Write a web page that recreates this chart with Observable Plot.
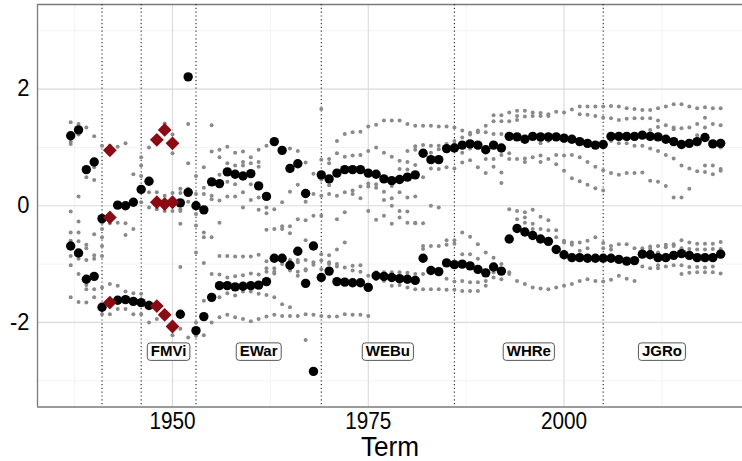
<!DOCTYPE html>
<html><head><meta charset="utf-8">
<script src="https://cdn.jsdelivr.net/npm/d3@7"></script>
<script src="https://cdn.jsdelivr.net/npm/@observablehq/plot@0.6"></script>
<style>
html,body{margin:0;padding:0;background:#fff;}
#chart{width:742px;height:461px;overflow:hidden;}
</style></head><body><div id="chart"></div>
<script>
// ---- data ----
const terms = [1937,1938,1939,1940,1941,1942,1943,1944,1945,1946,1947,1948,1949,1950,1951,1952,1953,1954,1955,1956,1957,1958,1959,1960,1961,1962,1963,1964,1965,1966,1967,1968,1969,1970,1971,1972,1973,1974,1975,1976,1977,1978,1979,1980,1981,1982,1983,1984,1985,1986,1987,1988,1989,1990,1991,1992,1993,1994,1995,1996,1997,1998,1999,2000,2001,2002,2003,2004,2005,2006,2007,2008,2009,2010,2011,2012,2013,2014,2015,2016,2017,2018,2019,2020];

const blackUpper = [1.20,1.30,0.62,0.75,-0.22,null,0.01,0.00,0.06,0.28,0.42,null,null,null,0.05,2.21,0.00,-0.07,0.41,0.38,0.58,0.54,0.51,0.55,0.34,0.16,1.10,0.95,0.64,0.72,0.21,-0.69,0.53,0.46,0.56,0.62,0.62,0.62,0.56,0.54,0.46,0.43,0.45,0.49,0.53,0.90,0.79,0.79,0.98,0.99,1.04,1.06,1.04,0.96,1.04,0.99,1.19,1.18,1.14,1.19,1.18,1.18,1.18,1.16,1.14,1.10,1.07,1.04,1.05,1.19,1.19,1.19,1.19,1.21,1.19,1.18,1.14,1.10,1.05,1.07,1.10,1.17,1.06,1.07];

const blackLower = [-0.69,-0.81,-1.26,-1.21,-1.74,null,-1.62,-1.61,-1.64,-1.66,-1.71,null,null,null,-1.86,0.23,-2.14,-1.90,-1.57,-1.37,-1.37,-1.39,-1.38,-1.37,-1.36,-1.30,-0.90,-0.90,-1.02,-0.78,-1.33,-2.84,-1.23,-1.12,-1.30,-1.31,-1.32,-1.32,-1.40,-1.20,-1.21,-1.23,-1.25,-1.26,-1.28,-0.90,-1.11,-1.13,-0.98,-1.01,-1.00,-1.03,-1.09,-1.15,-1.05,-1.12,-0.57,-0.39,-0.45,-0.51,-0.57,-0.61,-0.75,-0.84,-0.89,-0.89,-0.90,-0.90,-0.90,-0.90,-0.92,-0.95,-0.94,-0.83,-0.84,-0.89,-0.89,-0.85,-0.82,-0.85,-0.89,-0.89,-0.89,-0.83];

const redTerms  = [1942,1942,1942,1948,1948,1948,1949,1949,1949,1950,1950,1950];
const redValues = [0.95,-0.20,-1.66,1.13,0.06,-1.72,1.30,0.03,-1.87,1.07,0.06,-2.07];

const grayValues = [
 [1.43,1.10,1.06,-0.10,-0.46,-0.60,-0.86,-1.02,-1.57],
 [1.40,1.22,0.16,-0.27,-0.46,-0.61,-0.91,-1.17,-1.65],
 [1.34,0.49,-0.67,-0.73,-0.93,-1.36,-1.43,-1.66],
 [1.19,0.66,0.44,-0.49,-0.85,-0.91,-1.43,-1.57],
 [1.03,-0.29,-0.40,-0.54,-0.69,-0.86,-1.40,-1.77,-1.86],
 [1.03,-0.30,-1.34,-1.86],
 [1.01,-0.29,-1.37,-1.77],
 [1.07,-0.03,-0.30,-0.50,-1.47,-1.77],
 [0.54,-0.40,-1.50,-1.86],
 [0.83,0.69,0.51,0.06,-1.51,-1.86],
 [1.00,0.23,-0.03,-1.66,-2.00],
 [0.23,-0.06,-1.94],
 [1.41,0.17,-0.09,-1.91],
 [1.22,0.90,0.22,-0.09,-2.00,-2.22],
 [0.29,0.22,-0.06,-0.09,-0.31,-1.05,-2.11],
 [1.40,0.73,0.29,0.22,0.07,-2.26],
 [0.51,0.20,0.06,-0.14,-0.34,-0.80,-2.00,-2.23],
 [0.66,0.31,0.20,-0.46,-0.54,-0.98,-1.63,-2.22],
 [1.38,0.93,0.17,0.11,-0.54,-1.17,-2.00],
 [0.96,0.83,0.53,0.09,-0.29,-0.86,-1.18,-1.57,-1.91],
 [1.01,0.73,0.41,0.16,-0.86,-1.23,-1.50,-1.87],
 [0.91,0.69,0.37,0.16,-0.87,-1.21,-1.54,-1.91],
 [0.93,0.75,0.69,0.23,-0.03,-0.87,-1.19,-1.47,-1.94],
 [0.83,0.73,0.37,0.10,-0.87,-1.16,-1.47,-1.98],
 [0.96,0.75,0.67,0.14,-0.07,-0.84,-1.18,-1.51,-1.94],
 [1.03,-0.03,-0.13,-0.41,-0.95,-1.07,-1.13,-1.53,-1.90],
 [-0.06,-0.40,-1.07,-1.13,-1.16,-1.57,-1.87],
 [0.06,-0.35,-0.40,-0.90,-0.96,-1.00,-1.69,-1.89],
 [0.98,0.24,-0.35,-0.47,-0.93,-1.11,-1.74,-1.89],
 [0.94,0.36,-0.23,-0.93,-0.97,-1.13,-1.20,-1.89],
 [0.74,0.07,-0.25,-0.59,-0.93,-1.09,-1.11,-1.86,-2.30],
 [0.55,0.20,-0.17,-0.66,-0.97,-1.01,-1.87],
 [1.66,0.79,0.45,0.17,-0.17,-0.83,-0.94,-1.09,-1.89],
 [0.80,0.73,0.35,0.20,-0.85,-0.97,-1.00,-1.90],
 [1.11,0.90,0.17,-0.23,-0.75,-1.00,-1.04,-1.90],
 [1.23,0.84,0.23,-0.11,-0.63,-1.06,-1.86],
 [1.26,0.86,0.26,0.20,-1.03,-1.11,-1.87],
 [1.27,0.87,0.33,0.13,-1.02,-1.13,-1.87],
 [1.36,0.94,0.38,0.33,-0.09,-1.20,-1.89],
 [1.39,1.00,0.37,0.31,-0.24,-1.14,-1.26],
 [1.46,0.91,0.24,0.10,-0.17,-1.14,-1.29],
 [1.46,0.84,0.34,0.13,0.00,-0.31,-1.14,-1.27,-1.37],
 [1.46,0.77,0.63,0.23,-0.09,-0.20,-1.14,-1.26,-1.36],
 [1.40,0.94,0.75,0.62,0.14,-0.10,-0.29,-1.15,-1.40],
 [1.37,1.02,0.96,0.70,0.16,-0.29,-0.30,-1.17,-1.43],
 [1.37,1.04,0.49,-0.30,-0.69,-0.74,-1.17,-1.43],
 [1.37,1.03,0.91,0.64,0.00,-0.69,-1.43],
 [1.36,1.03,0.97,0.63,-0.03,-0.69,-1.43],
 [1.36,1.06,1.01,0.66,-0.59,-0.67,-1.25,-1.44],
 [1.34,1.11,1.06,0.64,-0.59,-0.65,-1.30,-1.44],
 [1.29,1.17,0.91,0.74,-0.46,-0.83,-1.29,-1.46],
 [1.25,1.22,0.98,0.78,-0.53,-0.83,-1.31,-1.46],
 [1.29,1.26,1.00,0.66,-0.66,-0.91,-1.31,-1.46],
 [1.37,1.26,0.80,0.56,-0.80,-1.11,-1.29,-1.37],
 [1.55,1.45,1.23,0.80,0.67,-0.89,-1.14,-1.23],
 [1.55,1.45,1.23,0.87,0.57,0.39,-1.00,-1.13,-1.26],
 [1.60,1.45,0.90,0.80,-0.06,-1.14,-1.17],
 [1.63,1.54,1.47,0.80,-0.09,-0.23,-1.29],
 [1.63,1.53,0.81,0.75,-0.11,-0.20,-0.29,-1.34],
 [1.60,1.54,0.83,-0.07,-0.31,-0.40,-1.40],
 [1.59,1.54,1.11,1.07,0.86,0.75,-0.19,-0.40,-1.42],
 [1.57,1.54,1.11,0.80,-0.25,-0.42,-1.43],
 [1.61,1.14,0.87,0.71,-0.42,-0.54,-1.40],
 [1.60,1.11,0.86,0.60,-0.60,-0.63,-1.37],
 [1.65,1.14,0.87,0.47,-0.63,-0.67,-1.34],
 [1.70,1.57,1.07,0.83,0.42,-0.63,-0.77,-1.29],
 [1.70,1.56,1.03,0.75,0.36,-0.60,-0.73,-1.26],
 [1.70,1.54,0.67,0.30,-0.54,-1.29],
 [1.70,1.51,0.61,0.26,-0.64,-0.73,-1.30],
 [1.71,1.50,1.11,0.56,-0.69,-0.75,-1.27],
 [1.70,1.47,1.07,0.53,-0.66,-1.20],
 [1.67,1.49,1.07,0.56,-0.66,-1.25],
 [1.66,1.50,1.03,0.56,-0.73,-1.29],
 [1.64,1.50,1.03,0.57,-0.73,-0.80,-1.04],
 [1.64,1.50,1.30,0.98,0.43,-0.70,-0.74,-1.07],
 [1.67,1.46,1.35,0.94,0.41,-0.69,-0.80,-1.02,-1.07],
 [1.70,1.38,0.87,0.34,-0.67,-0.71,-1.04],
 [1.74,1.34,1.31,0.81,0.14,-0.66,-0.69,-1.02],
 [1.74,1.33,0.69,0.14,-0.59,-0.73,-1.02,-1.17],
 [1.70,1.34,0.64,0.29,-0.63,-0.74,-1.05,-1.15],
 [1.67,1.40,1.21,0.59,-0.65,-0.75,-1.05,-1.14],
 [1.69,1.51,1.34,0.69,0.58,-0.65,-0.75,-1.06,-1.14],
 [1.67,1.40,0.69,0.54,-0.65,-0.74,-1.04,-1.14],
 [1.67,1.38,1.00,0.63,0.60,-0.62,-0.74,-0.82,-1.16]
];

const courtStarts = [1941,1946,1953,1969,1986,2005];
const chiefLabels = ["FMVi","EWar","WEBu","WHRe","JGRo"];
const chiefLabelTerms = [1949.5,1961,1977.5,1995.5,2012.5];
const chiefLabelY = -2.5;

const xTicks = [1950,1975,2000];
const xMinor = [1937.5,1962.5,1987.5,2012.5];
const yTicks = [-2,0,2];
const yTickLabels = ["-2","0","2"];
const yMinor = [-3,-1,1,3];
const xTitle = "Term";

// ---- tables built from the arrays ----
const grayData = terms.flatMap((t,i) => grayValues[i].map(v => ({term:t, value:v})));
const blackData = terms.flatMap((t,i) => [blackUpper[i], blackLower[i]].filter(v => v != null).map(v => ({term:t, value:v})));
const redData = redTerms.map((t,i) => ({term:t, value:redValues[i]}));
const labelData = chiefLabels.map((l,i) => ({label:l, term:chiefLabelTerms[i], value:chiefLabelY}));

const xDom = [1932.76, 2022.79];
const yDom = [-3.45, 3.45];
const font = "'Liberation Sans', Arial, Helvetica, sans-serif";

const chart = Plot.plot({
  width: 742, height: 461,
  marginLeft: 37, marginRight: 0, marginTop: 4, marginBottom: 54.5,
  style: {fontFamily: font, background: "#fff", overflow: "visible"},
  x: {domain: xDom, axis: null},
  y: {domain: yDom, axis: null},
  marks: [
    Plot.ruleY(yMinor, {stroke: "#ebebeb", strokeWidth: 0.6}),
    Plot.ruleX(xMinor, {stroke: "#ebebeb", strokeWidth: 0.6}),
    Plot.ruleY(yTicks, {stroke: "#dadada", strokeWidth: 1.1}),
    Plot.ruleX(xTicks, {stroke: "#dadada", strokeWidth: 1.1}),
    Plot.ruleY(yDom, {stroke: "#7a7a7a", strokeWidth: 1.3}),
    Plot.ruleX([xDom[0]], {stroke: "#7a7a7a", strokeWidth: 1.3}),
    Plot.ruleX(courtStarts, {stroke: "#222", strokeWidth: 1.1, strokeDasharray: "1.2,2.6"}),
    Plot.dot(grayData, {x: "term", y: "value", r: 2.0, fill: "#8a8a8a", stroke: "none"}),
    Plot.dot(blackData, {x: "term", y: "value", r: 4.7, fill: "#000", stroke: "none"}),
    Plot.dot(redData, {x: "term", y: "value", r: 6.2, symbol: "diamond2", fill: "#8b0a14", stroke: "none"}),
    Plot.text(labelData, {x: "term", y: "value", text: "label", fontSize: 15, fontWeight: "bold", fill: "#000"}),
    Plot.text(xTicks, {x: d => d, y: () => yDom[0], dy: 14.5, lineAnchor: "middle", text: d => String(d), fontSize: 23, fill: "#000"}),
    Plot.text(yTicks, {x: () => xDom[0], y: d => d, dx: -8, lineAnchor: "middle", text: (d,i) => yTickLabels[i], textAnchor: "end", fontSize: 23, fill: "#000"}),
    Plot.text([xTitle], {frameAnchor: "bottom", lineAnchor: "middle", dy: 40.5, fontSize: 27, fill: "#000"})
  ]
});
document.getElementById("chart").appendChild(chart);

// axis texts in the reference are slightly condensed horizontally
const squeeze = new Map([...xTicks.map(d => [String(d), 0.9]), ...yTickLabels.map(d => [d, 0.95]), [xTitle, 0.97]]);
const labelSet = new Set(chiefLabels);
chart.querySelectorAll("text").forEach(t => {
  const s = t.textContent;
  if (squeeze.has(s)) {
    const w = t.getComputedTextLength();
    t.setAttribute("textLength", (w * squeeze.get(s)).toFixed(1));
    t.setAttribute("lengthAdjust", "spacingAndGlyphs");
  } else if (labelSet.has(s)) {
    // white rounded boxes behind the chief-justice labels (geom_label style)
    const b = t.getBBox();
    const r = document.createElementNS("http://www.w3.org/2000/svg", "rect");
    const tr = t.getAttribute("transform");
    if (tr) r.setAttribute("transform", tr);
    r.setAttribute("x", b.x - 3.5);
    r.setAttribute("y", b.y + 0.5);
    r.setAttribute("width", b.width + 7);
    r.setAttribute("height", b.height + 0.5);
    r.setAttribute("rx", 3);
    r.setAttribute("fill", "#fff");
    r.setAttribute("stroke", "#444");
    r.setAttribute("stroke-width", 0.9);
    t.parentNode.insertBefore(r, t);
  }
});
</script>
</body></html>
